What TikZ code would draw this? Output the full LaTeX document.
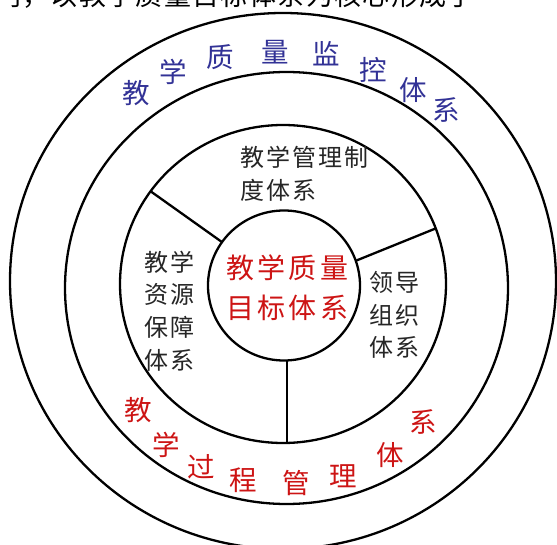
\documentclass[tikz,border=0pt]{standalone}
\usepackage{fontspec}
\usetikzlibrary{shapes.geometric}
\newfontfamily\cjk{Noto Sans CJK SC}
\newfontfamily\cjkls[LetterSpace=8]{Noto Sans CJK SC}
\newfontfamily\cjkred[LetterSpace=12]{Noto Sans CJK SC}
\newfontfamily\cjktop[LetterSpace=5]{Noto Sans CJK SC}
\definecolor{ringblue}{RGB}{50,50,150}
\definecolor{ringred}{RGB}{205,20,20}
\begin{document}
\begin{tikzpicture}[x=1pt,y=-1pt,
  ring/.style={draw=black,line width=2.3pt},
  oval/.style={ring,ellipse,inner sep=0pt,outer sep=0pt},
  lbl/.style={font=\cjkls\fontsize{24}{32.8}\selectfont,align=left,inner sep=0pt,anchor=west,text=black!85},
  corelbl/.style={font=\cjkred\fontsize{28}{40}\selectfont,align=left,inner sep=0pt,anchor=west,text=ringred},
  bluech/.style={font=\cjk\fontsize{27.5}{27.5}\selectfont,inner sep=0pt,text=ringblue},
  redch/.style={font=\cjk\fontsize{27.5}{27.5}\selectfont,inner sep=0pt,text=ringred}]
\useasboundingbox (0,0) rectangle (557,545);
\clip (0,0) rectangle (557,545);
\fill[white] (0,0) rectangle (557,545);
% cropped line of text at the top
\node[font=\cjktop\fontsize{27}{27}\selectfont,inner sep=0pt,anchor=base west] (top) at (-6,6) {门，以教学质量目标体系为核心形成了“};
% rings
\node[oval,minimum width=546pt,minimum height=536pt] (outer) at (283,281) {};
\node[oval,minimum width=443pt,minimum height=432pt] (ring2) at (286.5,288) {};
\node[oval,minimum width=326pt,minimum height=318pt] (ring3) at (283,284) {};
\node[oval,minimum width=152pt,minimum height=150pt] (core) at (284,285.5) {};
% dividers
\coordinate (cut) at (286.7,0);
\draw[ring] (ring3.145) -- (core.145);
\draw[ring] (core.19) -- (ring3.20);
\draw[ring] (cut |- core.south) -- (cut |- ring3.south);
% labels
\node[corelbl] (goal) at (226,288) {教学质量\\目标体系};
\node[lbl] (rule) at (240.5,174) {教学管理制\\度体系};
\node[lbl] (res) at (144,311) {教学\\资源\\保障\\体系};
\node[lbl] (lead) at (369,315) {领导\\组织\\体系};
% ring texts
\foreach \c/\x/\y [count=\i] in {教/136.7/93.3, 学/173.3/71.7, 质/220/56.7, 量/275/51.7, 监/326.7/53.3, 控/373.3/70, 体/413.3/90, 系/446.7/110}
  \node[bluech] (b\i) at (\x,\y) {\c};
\foreach \c/\x/\y [count=\i] in {教/138.3/410, 学/166.7/445, 过/201.7/466.7, 程/243.3/480, 管/296.7/483.3, 理/343.3/476.7, 体/390/455, 系/423.3/421.7}
  \node[redch] (r\i) at (\x,\y) {\c};
\end{tikzpicture}
\end{document}
